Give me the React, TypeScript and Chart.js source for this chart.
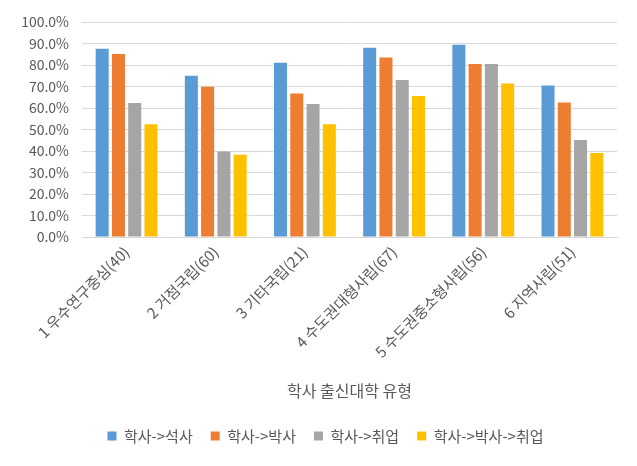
import React, { useEffect, useRef } from "react";
import { Chart, registerables } from "chart.js";

Chart.register(...registerables);

const categories = [
  "1 우수연구중심(40)",
  "2 거점국립(60)",
  "3 기타국립(21)",
  "4 수도권대형사립(67)",
  "5 수도권중소형사립(56)",
  "6 지역사립(51)",
];
const seriesNames = ["학사->석사", "학사->박사", "학사->취업", "학사->박사->취업"];
const masterValues = [87.6, 75.0, 81.1, 88.0, 89.4, 70.5];
const doctorValues = [85.1, 69.9, 66.7, 83.5, 80.5, 62.6];
const jobValues = [62.3, 39.8, 61.9, 73.0, 80.5, 45.1];
const doctorJobValues = [52.4, 38.3, 52.4, 65.6, 71.4, 39.1];
const seriesColors = ["#5B9BD5", "#ED7D31", "#A5A5A5", "#FFC000"];
const xTitle = "학사 출신대학 유형";

const FONT = "'Noto Sans CJK KR', 'Noto Sans', sans-serif";
const TEXT = "#595959";

export default function App() {
  const ref = useRef<HTMLCanvasElement>(null);
  useEffect(() => {
    document.body.style.margin = "0";
    const values = [masterValues, doctorValues, jobValues, doctorJobValues];
    const chart = new Chart(ref.current!, {
      type: "bar",
      data: {
        labels: categories,
        datasets: seriesNames.map((name, i) => ({
          label: name,
          data: values[i],
          backgroundColor: seriesColors[i],
          borderWidth: 0,
          categoryPercentage: 0.73,
          barPercentage: 0.8,
        })),
      },
      options: {
        animation: false,
        responsive: false,
        maintainAspectRatio: false,
        layout: { padding: { top: 22, right: 0, left: 14, bottom: 12.5 } },
        plugins: {
          tooltip: { enabled: false },
          legend: {
            position: "bottom",
            labels: {
              boxWidth: 9,
              boxHeight: 9,
              padding: 18,
              color: TEXT,
              font: { family: FONT, size: 15 },
            },
          },
        },
        scales: {
          x: {
            afterFit: (s: any) => {
              s.height = 173.5;
            },
            grid: { display: false, drawTicks: false },
            border: { display: true, color: "#D9D9D9", width: 1 },
            ticks: {
              color: TEXT,
              font: { family: FONT, size: 15 },
              minRotation: 45,
              maxRotation: 45,
              padding: 6,
              autoSkip: false,
            },
            title: {
              display: true,
              text: xTitle,
              color: TEXT,
              font: { family: FONT, size: 16 },
              padding: { top: 4, bottom: 10 },
            },
          },
          y: {
            min: 0,
            max: 100,
            afterFit: (s: any) => {
              s.width = 68;
            },
            grid: { color: "#D9D9D9", drawTicks: false },
            border: { display: false },
            ticks: {
              stepSize: 10,
              padding: 13,
              color: TEXT,
              font: { family: FONT, size: 14 },
              callback: (v: any) => Number(v).toFixed(1) + "%",
            },
          },
          yRight: {
            position: "right",
            min: 0,
            max: 100,
            afterFit: (s: any) => {
              s.width = 20;
            },
            grid: { display: false, drawTicks: false },
            border: { display: false },
            ticks: { display: false },
          },
        },
      },
    });
    return () => chart.destroy();
  }, []);
  return (
    <div style={{ position: "absolute", left: 0, top: 0, width: 637, height: 466 }}>
      <canvas ref={ref} width={637} height={466} style={{ width: 637, height: 466 }} />
    </div>
  );
}
